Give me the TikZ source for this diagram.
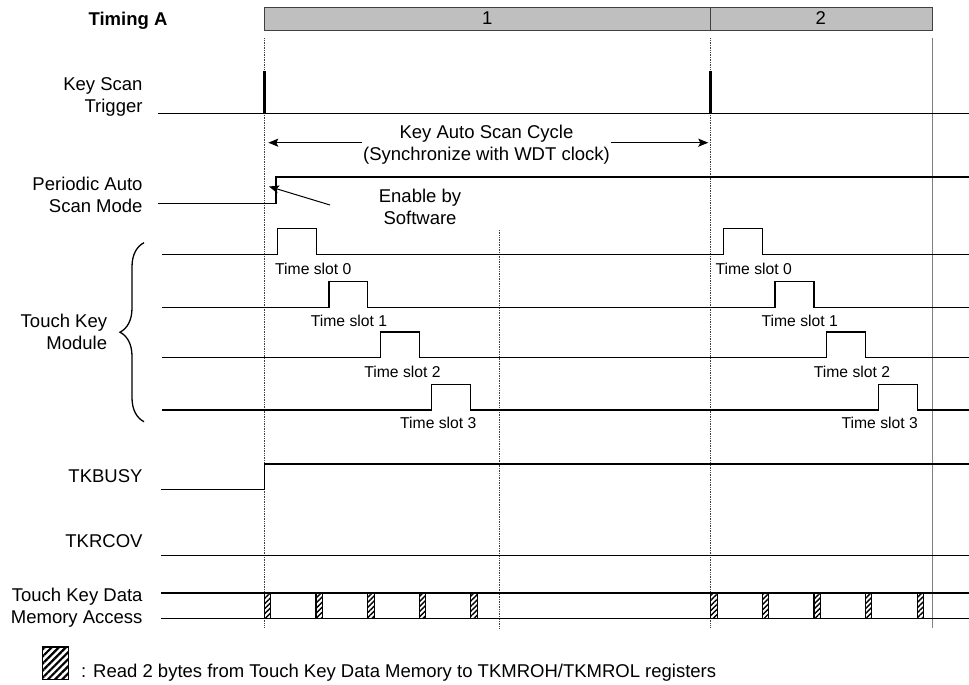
\documentclass[tikz,border=0pt]{standalone}
\usepackage{fontspec}
\setmainfont{Liberation Sans}
\usetikzlibrary{arrows.meta,decorations.pathreplacing,patterns.meta}
\begin{document}
\begin{tikzpicture}[x=1pt,y=-1pt,
  lbl/.style={inner sep=0pt, font=\fontsize{18.5}{22}\selectfont, align=right, anchor=north east},
  ctr/.style={inner sep=0pt, font=\fontsize{18.5}{22}\selectfont, align=center, anchor=north},
  slot/.style={inner sep=0pt, font=\fontsize{15.7}{18}\selectfont, anchor=north},
  sig/.style={line width=1.3pt, line join=miter},
  gridln/.style={densely dotted, line width=0.7pt, black!75},
  hatchbox/.style={draw=black, line width=1.2pt, pattern={Lines[angle=45,distance=3.6pt,line width=1.4pt]}},
  arr/.style={line width=1pt, -{Stealth[length=10pt,width=8pt,inset=2pt]}},
]
\useasboundingbox (0,0) rectangle (969,685);

% header bar
\draw[fill=black!25, draw=black!75, line width=1pt] (264.3,8) rectangle (932.5,30.7);
\draw[draw=black!75, line width=1pt] (710.7,8) -- (710.7,30.7);
\node[ctr] (h1) at (487.3,11.7) {1};
\node[ctr] (h2) at (820.7,11.7) {2};
\node[ctr, font=\fontsize{18.5}{22}\selectfont\bfseries] (tA) at (128,11.7) {Timing A};

% grid lines
\draw[gridln] (264.3,38.3) -- (264.3,628);
\draw[gridln] (710.7,38.3) -- (710.7,628);
\draw[gridln] (499,230) -- (499,628);
\draw[black!50, line width=0.8pt] (932.5,38.3) -- (932.5,628);

% Key Scan Trigger
\node[lbl] (kst) at (142.7,77) {Key Scan\\Trigger};
\draw[sig] (158.3,113.3) -- (969,113.3);
\draw[line width=3.3pt] (264.3,71.5) -- (264.3,113.3);
\draw[line width=3.3pt] (710.7,71.5) -- (710.7,113.3);

% Key Auto Scan Cycle
\node[ctr] (cyc) at (486.5,125) {Key Auto Scan Cycle\\(Synchronize with WDT clock)};
\coordinate (cycLa) at (361.7,142.7);
\coordinate (cycLb) at (268.3,142.7);
\coordinate (cycRa) at (610.7,142.7);
\coordinate (cycRb) at (708.3,142.7);
\draw[arr] (cycLa) -- (cycLb);
\draw[arr] (cycRa) -- (cycRb);

% Periodic Auto Scan Mode
\node[lbl] (pasm) at (142.7,176.7) {Periodic Auto\\Scan Mode};
\draw[sig] (158.3,203.3) -- (276,203.3) -- (276,177) -- (969,177);
\node[ctr] (en) at (420,189) {Enable by\\Software};
\coordinate (enA) at (330,205);
\coordinate (enB) at (269,186.5);
\draw[arr] (enA) -- (enB);

% Touch Key Module
\node[lbl] (tkm) at (107.3,314.3) {Touch Key\\Module};
\draw[line width=1.3pt, decorate, decoration={brace, amplitude=24pt}] (144,421.7) -- (144,242.7);
\foreach \yb/\a/\b/\c/\d in {254.3/277.3/316.7/723.3/762.3, 307.3/329/367.7/775/814, 357.7/380.3/419.3/826.7/865.7, 410/431.7/470.7/878.3/917.7}{
  \draw[sig] (161.7,\yb) -- (\a,\yb) -- (\a,\yb-25.7) -- (\b,\yb-25.7) -- (\b,\yb)
     -- (\c,\yb) -- (\c,\yb-25.7) -- (\d,\yb-25.7) -- (\d,\yb) -- (969,\yb);
}
\node[slot] (s10) at (313.3,263) {Time slot 0};
\node[slot] (s11) at (349,314.5) {Time slot 1};
\node[slot] (s12) at (402.5,366) {Time slot 2};
\node[slot] (s13) at (438.3,417) {Time slot 3};
\node[slot] (s20) at (753.7,263) {Time slot 0};
\node[slot] (s21) at (799.7,314.5) {Time slot 1};
\node[slot] (s22) at (852,366) {Time slot 2};
\node[slot] (s23) at (879.7,417) {Time slot 3};

% TKBUSY
\node[lbl] (busy) at (142.7,469.3) {TKBUSY};
\draw[sig] (161,489.3) -- (264.3,489.3) -- (264.3,464) -- (969,464);

% TKRCOV
\node[lbl] (rcov) at (142.7,534.3) {TKRCOV};
\draw[sig] (161,555.3) -- (969,555.3);

% Memory access
\node[lbl] (mem) at (142.7,588.3) {Touch Key Data\\Memory Access};
\draw[sig] (161,593) -- (969,593);
\draw[sig] (161,618.3) -- (969,618.3);
\foreach \x in {264.3,316,367.7,419.3,470.7,710.7,762.3,814,865.3,917.3}{
  \draw[hatchbox] (\x,593) rectangle ++(6.4,25.3);
}

% legend
\draw[draw=black, line width=1.5pt, pattern={Lines[angle=45,distance=5pt,line width=2.2pt]}] (42.7,647) rectangle (68.5,679.5);
\node[anchor=north west, inner sep=0pt, font=\fontsize{18.5}{22}\selectfont] (leg) at (81,664.3) {: Read 2 bytes from Touch Key Data Memory to TKMROH/TKMROL registers};
\end{tikzpicture}
\end{document}
